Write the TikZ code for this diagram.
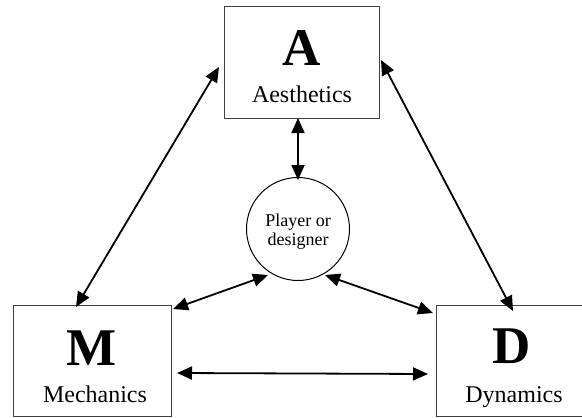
\documentclass[tikz,border=0pt]{standalone}
\usepackage{fontspec}
\setmainfont{Liberation Serif}
\usetikzlibrary{arrows.meta}

\tikzset{
  box/.style={draw=black!75, line width=1pt, minimum width=158pt, minimum height=111pt, inner sep=0pt},
  link/.style={line width=1.8pt, {Triangle[length=15pt,width=13pt]}-{Triangle[length=15pt,width=13pt]}},
  letter/.style={anchor=base, inner sep=0pt, font=\bfseries\fontsize{53}{53}\selectfont},
  word/.style={anchor=base, inner sep=0pt, font=\fontsize{24}{24}\selectfont}
}

\begin{document}
\begin{tikzpicture}[x=1pt, y=-1pt]
                    \useasboundingbox (0,0) rectangle (582,418);

                    \node[box, minimum width=155pt, minimum height=112pt] (aesth) at (301.5, 62) {};
                    \node[box] (mech) at (92, 360.5) {};
                    \node[box] (dyn) at (515, 360.5) {};
                    \node[draw, line width=1pt, circle, minimum size=103pt, inner sep=0pt] (player) at (298, 229) {};

                    \node[letter] (aletter) at (302, 65) {A};
                    \node[word] (aword) at (302, 102) {Aesthetics};
                    \node[letter] (mletter) at (92, 365) {M};
                    \node[word] (mword) at (95, 402) {Mechanics};
                    \node[letter] (dletter) at (512, 363) {D};
                    \node[word] (dword) at (514, 402) {Dynamics};
                    \node[align=center, inner sep=0pt, font=\fontsize{18}{19}\selectfont] (ptext) at (298, 232) {Player or\\designer};

                    \coordinate (am1) at (219, 67);
                    \coordinate (am2) at (76, 307);
                    \coordinate (ad1) at (381, 60);
                    \coordinate (ad2) at (513, 311);
                    \coordinate (ap1) at (298, 118);
                    \coordinate (ap2) at (298, 180);
                    \coordinate (pm1) at (268, 275);
                    \coordinate (pm2) at (173, 309);
                    \coordinate (pd1) at (325, 275);
                    \coordinate (pd2) at (433, 313);
                    \coordinate (md1) at (177, 373);
                    \coordinate (md2) at (428, 374);

                    \draw[link] (am1)--(am2);
                    \draw[link] (ad1)--(ad2);
                    \draw[link] (ap1)--(ap2);
                    \draw[link] (pm1)--(pm2);
                    \draw[link] (pd1)--(pd2);
                    \draw[link] (md1)--(md2);
                \end{tikzpicture}
\end{document}
